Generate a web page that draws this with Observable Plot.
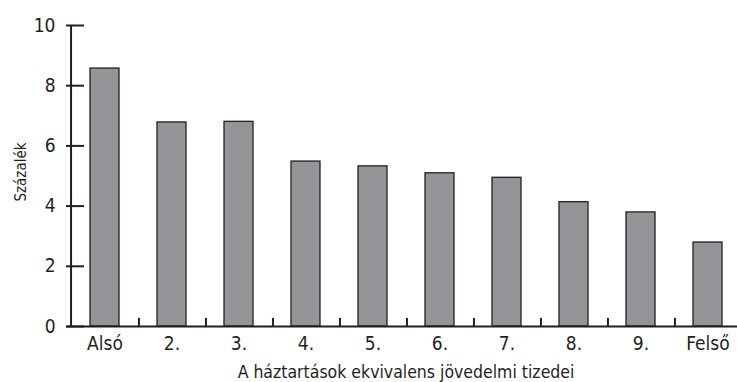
<!DOCTYPE html>
<html>
<head>
<meta charset="utf-8">
<script src="https://cdn.jsdelivr.net/npm/d3@7"></script>
<script src="https://cdn.jsdelivr.net/npm/@observablehq/plot@0.6"></script>
<style>
  html, body { margin: 0; padding: 0; background: #fff; overflow: hidden; }
  #chart { width: 737px; height: 382px; overflow: hidden; }
</style>
</head>
<body>
<div id="chart"></div>
<script>
// Data
const categories = ["Alsó", "2.", "3.", "4.", "5.", "6.", "7.", "8.", "9.", "Felső"];
const values = [8.57, 6.78, 6.8, 5.48, 5.32, 5.09, 4.94, 4.13, 3.79, 2.79];
const yTicks = [0, 2, 4, 6, 8, 10];
const xTitle = "A háztartások ekvivalens jövedelmi tizedei";
const yTitle = "Százalék";

const data = categories.map((c, i) => ({cat: c, value: values[i]}));

const W = 737, H = 382, ML = 66, MR = -8, MT = 25, MB = 56;
const PAD_IN = 0.573, PAD_OUT = PAD_IN / 2;
const step = (W - ML - MR) / categories.length;
const TICK = 18;
const dark = "#231f20";
const font = "'Liberation Sans Narrow', 'DejaVu Sans Condensed', 'Roboto Condensed', sans-serif";

const chart = Plot.plot({
  width: W,
  height: H,
  marginLeft: ML,
  marginRight: MR,
  marginTop: MT,
  marginBottom: MB,
  style: {fontFamily: font, fontSize: "19px"},
  x: {domain: categories, paddingInner: PAD_IN, paddingOuter: PAD_OUT, align: 0.5},
  y: {domain: [0, 10]},
  marks: [
    Plot.barY(data, {x: "cat", y: "value", fill: "#939598", stroke: dark, strokeWidth: 1.3}),
    // inward y ticks: a left axis's ticks shifted right by their own length
    Plot.axisY({ticks: yTicks, tickSize: TICK, dx: TICK, tickFormat: () => "", label: null, stroke: dark, strokeWidth: 2}),
    Plot.axisY({ticks: yTicks, tickSize: 0, tickPadding: 11, label: null, fill: dark, fontSize: 19}),
    Plot.axisX({tickSize: 0, tickPadding: 10, label: null, fill: dark, fontSize: 19}),
    // small upward ticks at the category boundaries
    Plot.ruleX(categories.slice(0, -1), {x: d => d, y1: 0, y2: 0.27, dx: step / 2, stroke: dark, strokeWidth: 2}),
    // y-axis line at the left edge of the first band
    Plot.ruleX(categories.slice(0, 1), {x: d => d, y1: 0, y2: 10, dx: -step / 2, stroke: dark, strokeWidth: 2}),
    Plot.ruleY([0], {stroke: dark, strokeWidth: 2}),
    Plot.text([xTitle], {frameAnchor: "bottom", dy: 51, fontSize: 17.5, fill: dark}),
    Plot.text([yTitle], {frameAnchor: "left", textAnchor: "middle", rotate: -90, dx: -45, dy: -4, fontSize: 15, fill: dark})
  ]
});
document.getElementById("chart").appendChild(chart);
</script>
</body>
</html>
